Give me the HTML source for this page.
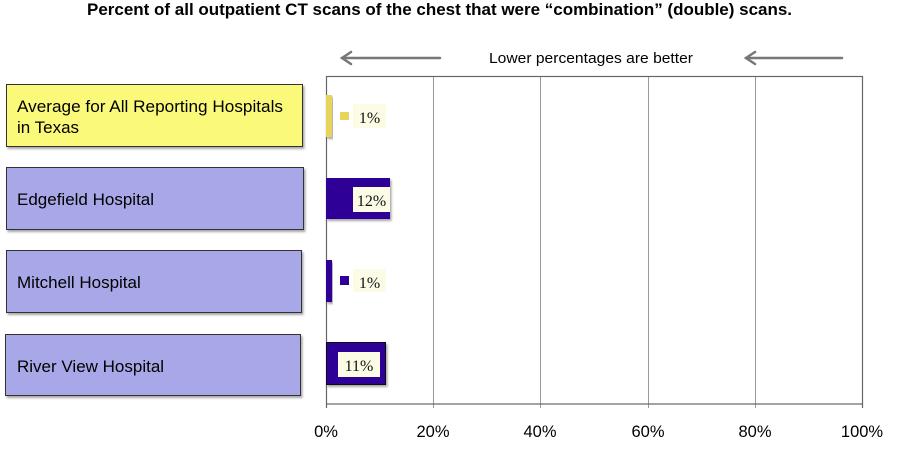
<!DOCTYPE html>
<html><head><meta charset="utf-8"><style>
html,body{margin:0;padding:0;background:#fff;}
svg{display:block;}
text{font-family:"Liberation Sans",Arial,sans-serif;}
.serif{font-family:"Liberation Serif","DejaVu Serif",serif;}
</style></head><body>
<svg width="899" height="475" viewBox="0 0 899 475" xmlns="http://www.w3.org/2000/svg">
<defs>
<filter id="sh" x="-5%" y="-10%" width="115%" height="130%">
<feDropShadow dx="1.5" dy="2" stdDeviation="1" flood-color="#000" flood-opacity="0.35"/>
</filter>
</defs>
<text x="87" y="15" font-size="17" font-weight="bold" fill="#000" textLength="705" lengthAdjust="spacingAndGlyphs">Percent of all outpatient CT scans of the chest that were “combination” (double) scans.</text>

<!-- arrows -->
<g stroke="#777" stroke-width="2.5" fill="none" stroke-linecap="round">
<line x1="342" y1="58" x2="440" y2="58"/>
<polyline points="351,52 342,58 351,64"/>
<line x1="746" y1="58" x2="842" y2="58"/>
<polyline points="755,52 746,58 755,64"/>
</g>
<text x="489" y="63" font-size="15" fill="#000" textLength="204" lengthAdjust="spacingAndGlyphs">Lower percentages are better</text>

<!-- grid -->
<g stroke="#9a9a9a" stroke-width="1">
<line x1="433.5" y1="76" x2="433.5" y2="408"/>
<line x1="540.5" y1="76" x2="540.5" y2="408"/>
<line x1="648.5" y1="76" x2="648.5" y2="408"/>
<line x1="755.5" y1="76" x2="755.5" y2="408"/>
</g>
<g stroke="#666" stroke-width="1.2" fill="none">
<rect x="326.5" y="76.5" width="536" height="327.5"/>
<line x1="326.5" y1="404" x2="326.5" y2="408"/>
<line x1="862.5" y1="404" x2="862.5" y2="408"/>
</g>

<!-- bars -->
<rect x="326" y="95" width="6" height="42" fill="#e6d55a" filter="url(#sh)"/>
<rect x="340" y="112" width="9" height="8" fill="#e6d55a"/>
<rect x="353" y="104" width="33" height="24" fill="#fbfbe6"/>
<text class="serif" x="369.5" y="123" font-size="16" text-anchor="middle" fill="#111">1%</text>

<rect x="326" y="178" width="64" height="41" fill="#2e0096" filter="url(#sh)"/>
<rect x="353" y="187" width="37" height="25" fill="#fbfbe6"/>
<text class="serif" x="371.5" y="206" font-size="16" text-anchor="middle" fill="#111">12%</text>

<rect x="326" y="260" width="6" height="42" fill="#2e0096" filter="url(#sh)"/>
<rect x="340" y="276" width="9" height="9" fill="#2e0096"/>
<rect x="353" y="269" width="33" height="23" fill="#fbfbe6"/>
<text class="serif" x="369.5" y="288" font-size="16" text-anchor="middle" fill="#111">1%</text>

<rect x="326.5" y="342.5" width="59" height="42" fill="#2e0096" stroke="#111" stroke-width="1" filter="url(#sh)"/>
<rect x="338" y="352" width="42" height="25" fill="#fbfbe6"/>
<text class="serif" x="359" y="371" font-size="16" text-anchor="middle" fill="#111">11%</text>

<!-- tick labels -->
<g font-size="16.5" text-anchor="middle" fill="#000">
<text x="326" y="437">0%</text>
<text x="433" y="437">20%</text>
<text x="540" y="437">40%</text>
<text x="648" y="437">60%</text>
<text x="755" y="437">80%</text>
<text x="862" y="437">100%</text>
</g>

<!-- left label boxes -->
<rect x="6.5" y="84.5" width="296" height="62" fill="#fbf97a" stroke="#333" stroke-width="1" filter="url(#sh)"/>
<text x="17" y="112" font-size="17" fill="#000" textLength="266" lengthAdjust="spacingAndGlyphs">Average for All Reporting Hospitals</text>
<text x="17" y="133" font-size="17" fill="#000">in Texas</text>

<rect x="6.5" y="167.5" width="297" height="62" fill="#a8a8e8" stroke="#333" stroke-width="1" filter="url(#sh)"/>
<text x="17" y="205" font-size="17" fill="#000">Edgefield Hospital</text>

<rect x="6.5" y="250.5" width="295" height="62" fill="#a8a8e8" stroke="#333" stroke-width="1" filter="url(#sh)"/>
<text x="17" y="288" font-size="17" fill="#000">Mitchell Hospital</text>

<rect x="5.5" y="334.5" width="295" height="61" fill="#a8a8e8" stroke="#333" stroke-width="1" filter="url(#sh)"/>
<text x="17" y="372" font-size="17" fill="#000">River View Hospital</text>
</svg>
</body></html>
